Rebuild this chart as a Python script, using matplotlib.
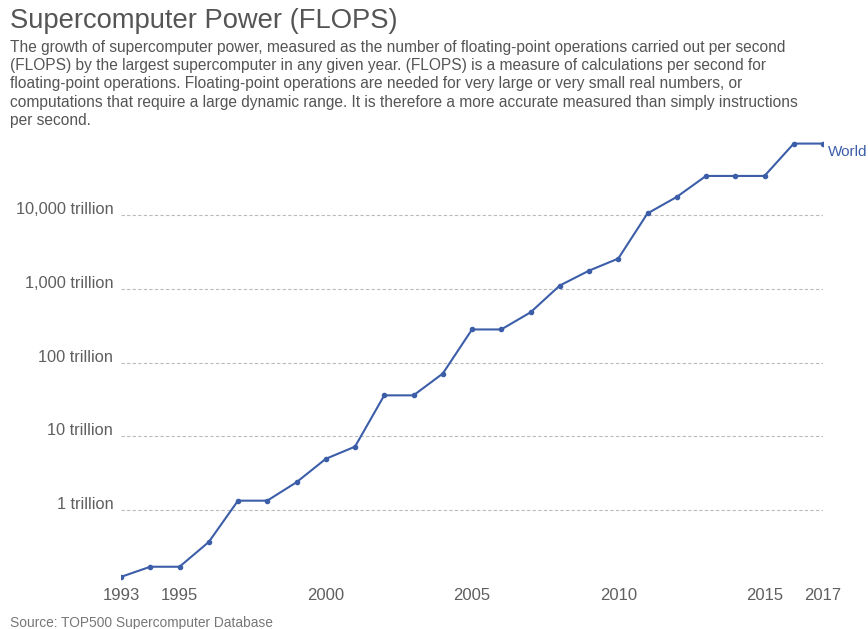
import matplotlib.pyplot as plt
from matplotlib.ticker import NullLocator
from matplotlib.transforms import ScaledTranslation

plt.rcParams['font.family'] = ['Liberation Sans', 'DejaVu Sans']

# data (trillion FLOPS, TOP500 #1 each year)
years = list(range(1993, 2018))
flops = [0.124, 0.170, 0.170, 0.368, 1.338, 1.338, 2.379, 4.938, 7.226,
         35.86, 35.86, 70.72, 280.6, 280.6, 478.2, 1105, 1759, 2566,
         10510, 17590, 33860, 33860, 33860, 93010, 93010]
y_ticks = [1, 10, 100, 1000, 10000]
y_labels = ['1 trillion', '10 trillion', '100 trillion', '1,000 trillion', '10,000 trillion']
x_ticks = [1993, 1995, 2000, 2005, 2010, 2015, 2017]

line_col = '#3c5ea8'
text_col = '#5f5f5f'

fig = plt.figure(figsize=(8.68, 6.29), dpi=100)
ax = fig.add_axes([121/868, 49/629, 702/868, 440/629])

ax.plot(years, flops, color=line_col, lw=1.5, marker='o', ms=3)
ax.set_yscale('log')
ax.set_xlim(1993, 2017)
ax.set_ylim(0.1124, 1.04e5)
ax.yaxis.set_minor_locator(NullLocator())
ax.set_yticks(y_ticks)
ax.set_yticklabels(y_labels)
ax.set_xticks(x_ticks)
ax.tick_params(axis='y', length=0, pad=5.5, labelsize=11.8, labelcolor=text_col)
ax.tick_params(axis='x', length=0, pad=6, labelsize=12, labelcolor=text_col)
for lab in ax.get_yticklabels():
    lab.set_transform(lab.get_transform() + ScaledTranslation(0, 5/72, fig.dpi_scale_trans))
ax.grid(axis='y', color='#bbbbbb', ls=(0, (3, 2)), lw=0.8)
ax.grid(axis='x', visible=False)
for s in ax.spines.values():
    s.set_visible(False)

ax.annotate('World', xy=(years[-1], flops[-1]), xytext=(3.5, -6), textcoords='offset points',
            color=line_col, fontsize=11, va='center', ha='left', annotation_clip=False)

fig.text(10/868, 1 - 21/629, 'Supercomputer Power (FLOPS)', fontsize=19.7,
         color='#555555', va='center', ha='left')
subtitle = ("The growth of supercomputer power, measured as the number of floating-point operations carried out per second\n"
            "(FLOPS) by the largest supercomputer in any given year. (FLOPS) is a measure of calculations per second for\n"
            "floating-point operations. Floating-point operations are needed for very large or very small real numbers, or\n"
            "computations that require a large dynamic range. It is therefore a more accurate measured than simply instructions\n"
            "per second.")
fig.text(10/868, 1 - 40/629, subtitle, fontsize=11.2, color='#555555',
         va='top', ha='left', linespacing=1.27)
fig.text(10/868, 1 - 623/629, 'Source: TOP500 Supercomputer Database', fontsize=9.9,
         color='#777777', va='center', ha='left')

fig.savefig('out.png', dpi=100)
